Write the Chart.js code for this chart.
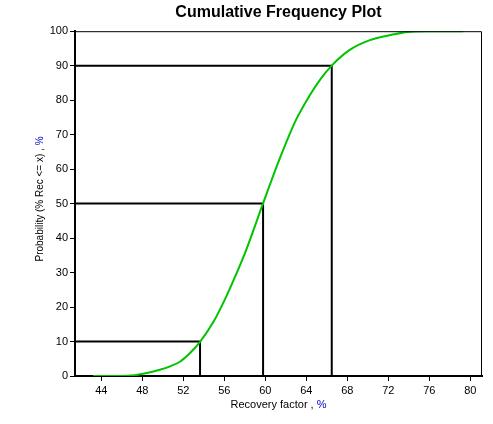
<!DOCTYPE html>
<html>
<head>
<meta charset="utf-8">
<script src="https://cdn.jsdelivr.net/npm/chart.js@4"></script>
<style>
  html, body { margin: 0; padding: 0; background: #fff; }
  #wrap { width: 493px; height: 424px; }
</style>
</head>
<body>
<div id="wrap"><canvas id="cumChart"></canvas></div>
<script>
// curve (recovery factor %, cumulative probability %)
const recovery = [43.2, 45.7, 47.25, 48.2, 49.7, 50.7, 51.7, 52.7, 53.63, 54.94, 56.15, 57.05, 58.06, 59.77, 61.48, 62.98, 64.29, 65.4, 66.5, 68.2, 70.2, 72.1, 73.85, 75.85, 79.3];
const probability = [0, 0, 0.2, 0.7, 1.8, 2.8, 4.2, 6.8, 9.9, 15.7, 22.8, 28.8, 36, 50, 63.6, 74.2, 81.2, 86.2, 90.1, 94.5, 97.4, 98.8, 99.8, 100, 100];

// P10 / P50 / P90 markers
const levels = [10, 50, 90];
const levelX = [53.63, 59.78, 66.48];

const xMin = 41.43;
const xMax = 81.14;

document.addEventListener('DOMContentLoaded', function () {
    const ctx = document.getElementById('cumChart').getContext('2d');
    const font = '"Liberation Sans", Arial, sans-serif';

    const datasets = [{
        data: recovery.map((x, i) => ({ x: x, y: probability[i] })),
        borderColor: 'rgb(0, 196, 0)',
        borderWidth: 2,
        pointRadius: 0,
        cubicInterpolationMode: 'monotone',
        fill: false
    }];
    levels.forEach(function (p, i) {
        datasets.push({
            data: [{ x: xMin, y: p }, { x: levelX[i], y: p }, { x: levelX[i], y: 0 }],
            borderColor: '#000',
            borderWidth: 2,
            pointRadius: 0,
            tension: 0,
            fill: false
        });
    });

    // frame on top/right + axis titles (the % is blue in the original)
    const frameAndTitles = {
        id: 'frameAndTitles',
        afterDraw(chart) {
            const a = chart.chartArea;
            const c = chart.ctx;
            c.save();
            c.strokeStyle = '#000';
            c.lineWidth = 1;
            c.beginPath();
            c.moveTo(a.left, a.top + 0.5);
            c.lineTo(a.right - 0.5, a.top + 0.5);
            c.lineTo(a.right - 0.5, a.bottom);
            c.stroke();

            c.font = '11px ' + font;
            c.textBaseline = 'middle';
            let t1 = 'Recovery factor , ';
            let t2 = '%';
            let w1 = c.measureText(t1).width;
            let w2 = c.measureText(t2).width;
            let x0 = (a.left + a.right) / 2 - (w1 + w2) / 2;
            c.textAlign = 'left';
            c.fillStyle = '#000';
            c.fillText(t1, x0, 405);
            c.fillStyle = '#0000c8';
            c.fillText(t2, x0 + w1, 405);

            c.font = '10px ' + font;
            t1 = 'Probability (% Rec <= x) , ';
            w1 = c.measureText(t1).width;
            w2 = c.measureText(t2).width;
            c.translate(40, 199);
            c.rotate(-Math.PI / 2);
            x0 = -(w1 + w2) / 2;
            c.fillStyle = '#000';
            c.fillText(t1, x0, 0);
            c.fillStyle = '#0000c8';
            c.fillText(t2, x0 + w1, 0);
            c.restore();
        }
    };

    new Chart(ctx, {
        type: 'line',
        data: { datasets: datasets },
        options: {
            responsive: true,
            maintainAspectRatio: false,
            animation: false,
            layout: { padding: { top: 0, right: 11, bottom: 0, left: 0 } },
            plugins: {
                legend: { display: false },
                tooltip: { enabled: false },
                title: {
                    display: true,
                    text: 'Cumulative Frequency Plot',
                    fullSize: false,
                    color: '#000',
                    font: { family: font, size: 16, weight: 'bold' },
                    padding: { top: 3, bottom: 9 }
                }
            },
            scales: {
                x: {
                    type: 'linear',
                    min: xMin,
                    max: xMax,
                    afterFit: function (s) { s.height = 48; },
                    ticks: {
                        stepSize: 4,
                        includeBounds: false,
                        color: '#000',
                        font: { family: font, size: 11 },
                        maxRotation: 0,
                        padding: 3
                    },
                    grid: { drawOnChartArea: false, drawTicks: true, tickLength: 5, color: '#000' },
                    border: { color: '#000', width: 2 }
                },
                y: {
                    min: 0,
                    max: 100,
                    afterFit: function (s) { s.width = 75; },
                    ticks: {
                        stepSize: 10,
                        color: '#000',
                        font: { family: font, size: 11 },
                        padding: 2
                    },
                    grid: { drawOnChartArea: false, drawTicks: true, tickLength: 5, color: '#000' },
                    border: { color: '#000', width: 2 }
                }
            }
        },
        plugins: [frameAndTitles]
    });
});
</script>
</body>
</html>
